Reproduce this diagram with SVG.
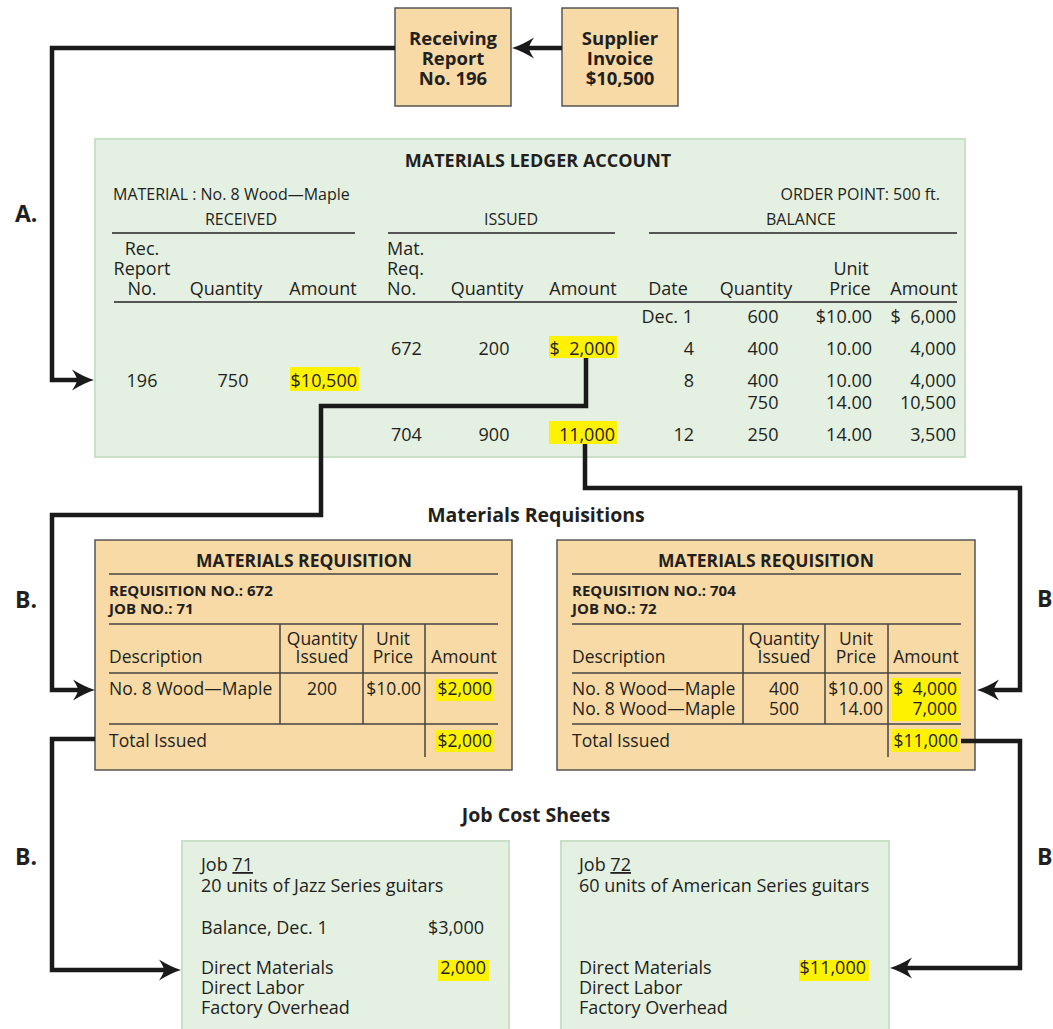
<svg xmlns="http://www.w3.org/2000/svg" width="1053" height="1029" viewBox="0 0 1053 1029">
<style>
text{font-family:"Open Sans","Liberation Sans",sans-serif;fill:#231f20}
.b{font-weight:bold}
.hdr{font-size:18px}
.sm{font-size:16px}
.rq{font-size:17.5px}
.m{text-anchor:middle}
.e{text-anchor:end}
.tan{fill:#f7daa5;stroke:#555;stroke-width:1.5}
.grn{fill:#e3f0e2;stroke:#c8e0c6;stroke-width:2}
.hl{fill:#fff200}
.rule{stroke:#555;stroke-width:2;fill:none}
.rl{stroke:#444;stroke-width:1.5;fill:none}
.conn{fill:none;stroke:#1a1a1a;stroke-width:4.5;stroke-linejoin:miter;marker-end:url(#ah)}
.lbl{font-size:23px;font-weight:bold}
.sec{font-size:19.5px;font-weight:bold;text-anchor:middle}
.top{font-size:18.5px;font-weight:bold;text-anchor:middle}
</style>
<defs>
<marker id="ah" markerUnits="userSpaceOnUse" viewBox="-8 -12 26 24" markerWidth="26" markerHeight="24" refX="0" refY="0" orient="auto" overflow="visible">
<path d="M16,0 Q6,-3 -6,-10.5 Q-1,-3 -1,0 Q-1,3 -6,10.5 Q6,3 16,0 Z" fill="#1a1a1a"/>
</marker>
</defs>
<rect width="1053" height="1029" fill="#ffffff"/>

<g id="receiving-report">
<rect class="tan" x="395" y="8" width="116" height="98"/>
<text class="top" x="453" y="45">Receiving</text>
<text class="top" x="453" y="65">Report</text>
<text class="top" x="453" y="85">No. 196</text>
</g>
<g id="supplier-invoice">
<rect class="tan" x="562" y="8" width="116" height="98"/>
<text class="top" x="620" y="45">Supplier</text>
<text class="top" x="620" y="65">Invoice</text>
<text class="top" x="620" y="85">$10,500</text>
</g>

<g id="materials-ledger">
<rect class="grn" x="95" y="139" width="870" height="318"/>
<text class="b m hdr" x="538" y="167">MATERIALS LEDGER ACCOUNT</text>
<text class="sm" x="113" y="200">MATERIAL : No. 8 Wood—Maple</text>
<text class="sm e" x="940" y="200">ORDER POINT: 500 ft.</text>
<text class="sm m" x="241" y="225">RECEIVED</text>
<text class="sm m" x="511" y="225">ISSUED</text>
<text class="sm m" x="801" y="225">BALANCE</text>
<path class="rule" d="M112,233H355M388,233H615M649,233H957M114,302H957"/>
<g class="hdr">
<text class="m" x="142" y="255">Rec.</text>
<text class="m" x="142" y="275">Report</text>
<text class="m" x="142" y="295">No.</text>
<text class="m" x="226" y="295">Quantity</text>
<text class="m" x="323" y="295">Amount</text>
<text x="387" y="255">Mat.</text>
<text x="387" y="275">Req.</text>
<text x="387" y="295">No.</text>
<text class="m" x="487" y="295">Quantity</text>
<text class="m" x="583" y="295">Amount</text>
<text class="m" x="668" y="295">Date</text>
<text class="m" x="756" y="295">Quantity</text>
<text class="m" x="851" y="275">Unit</text>
<text class="m" x="850" y="295">Price</text>
<text class="m" x="924" y="295">Amount</text>
</g>
<rect class="hl" x="549" y="336" width="68" height="22"/>
<rect class="hl" x="290" y="367" width="69" height="24"/>
<rect class="hl" x="549" y="421" width="68" height="23"/>
<g class="hdr">
<text class="e" x="693" y="323">Dec. 1</text>
<text class="m" x="763" y="323">600</text>
<text class="e" x="872" y="323">$10.00</text>
<text class="e" x="956" y="323" xml:space="preserve">$  6,000</text>
<text x="391" y="355">672</text>
<text class="m" x="494" y="355">200</text>
<text class="e" x="615" y="355" xml:space="preserve">$  2,000</text>
<text class="e" x="694" y="355">4</text>
<text class="m" x="763" y="355">400</text>
<text class="e" x="872" y="355">10.00</text>
<text class="e" x="956" y="355">4,000</text>
<text class="m" x="142" y="387">196</text>
<text class="m" x="233" y="387">750</text>
<text class="e" x="357" y="387">$10,500</text>
<text class="e" x="694" y="387">8</text>
<text class="m" x="763" y="387">400</text>
<text class="e" x="872" y="387">10.00</text>
<text class="e" x="956" y="387">4,000</text>
<text class="m" x="763" y="409">750</text>
<text class="e" x="872" y="409">14.00</text>
<text class="e" x="956" y="409">10,500</text>
<text x="391" y="441">704</text>
<text class="m" x="494" y="441">900</text>
<text class="e" x="615" y="441">11,000</text>
<text class="e" x="694" y="441">12</text>
<text class="m" x="763" y="441">250</text>
<text class="e" x="872" y="441">14.00</text>
<text class="e" x="956" y="441">3,500</text>
</g>
</g>

<text class="sec" x="536" y="522">Materials Requisitions</text>

<g id="requisition-672" transform="translate(95,0)">
<rect class="tan" x="0" y="540" width="417" height="230"/>
<text class="b m" font-size="17.5" x="209" y="567">MATERIALS REQUISITION</text>
<path class="rl" d="M14,574H403M14,624H403M14,673H403M14,724H403M185,624V724M268,624V724M330,624V757"/>
<text class="b" font-size="15" x="14" y="596">REQUISITION NO.: 672</text>
<text class="b" font-size="15" x="14" y="614">JOB NO.: 71</text>
<g class="rq">
<text x="14" y="663">Description</text>
<text class="m" x="227" y="645">Quantity</text>
<text class="m" x="227" y="663">Issued</text>
<text class="m" x="298" y="645">Unit</text>
<text class="m" x="298" y="663">Price</text>
<text class="m" x="369" y="663">Amount</text>
<rect class="hl" x="341" y="679" width="58" height="22"/>
<text x="14" y="695">No. 8 Wood—Maple</text>
<text class="m" x="227" y="695">200</text>
<text class="e" x="326" y="695">$10.00</text>
<text class="e" x="397" y="695">$2,000</text>
<rect class="hl" x="341" y="730" width="58" height="22"/>
<text x="14" y="747">Total Issued</text>
<text class="e" x="397" y="747">$2,000</text>
</g>
</g>

<g id="requisition-704" transform="translate(557,0)">
<rect class="tan" x="0" y="540" width="418" height="230"/>
<text class="b m" font-size="17.5" x="209" y="567">MATERIALS REQUISITION</text>
<path class="rl" d="M15,574H404M15,624H404M15,673H404M15,724H404M186,624V724M268,624V724M331,624V757"/>
<text class="b" font-size="15" x="15" y="596">REQUISITION NO.: 704</text>
<text class="b" font-size="15" x="15" y="614">JOB NO.: 72</text>
<g class="rq">
<text x="15" y="663">Description</text>
<text class="m" x="227" y="645">Quantity</text>
<text class="m" x="227" y="663">Issued</text>
<text class="m" x="299" y="645">Unit</text>
<text class="m" x="299" y="663">Price</text>
<text class="m" x="369" y="663">Amount</text>
<rect class="hl" x="335" y="678" width="67" height="43"/>
<text x="15" y="695">No. 8 Wood—Maple</text>
<text x="15" y="715">No. 8 Wood—Maple</text>
<text class="m" x="227" y="695">400</text>
<text class="m" x="227" y="715">500</text>
<text class="e" x="326" y="695">$10.00</text>
<text class="e" x="326" y="715">14.00</text>
<text class="e" x="400" y="695" xml:space="preserve">$  4,000</text>
<text class="e" x="400" y="715">7,000</text>
<rect class="hl" x="335" y="729" width="68" height="23"/>
<text x="15" y="747">Total Issued</text>
<text class="e" x="401" y="747">$11,000</text>
</g>
</g>

<text class="sec" x="536" y="822">Job Cost Sheets</text>

<g id="job-71">
<rect class="grn" x="182" y="841" width="327" height="200"/>
<g class="hdr">
<text x="201" y="871">Job <tspan text-decoration="underline">71</tspan></text>
<text x="201" y="892">20 units of Jazz Series guitars</text>
<text x="201" y="934">Balance, Dec. 1</text>
<text class="e" x="484" y="934">$3,000</text>
<rect class="hl" x="438" y="960" width="51" height="21"/>
<text x="201" y="974">Direct Materials</text>
<text class="e" x="486" y="974">2,000</text>
<text x="201" y="994">Direct Labor</text>
<text x="201" y="1014">Factory Overhead</text>
</g>
</g>

<g id="job-72">
<rect class="grn" x="561" y="841" width="328" height="200"/>
<g class="hdr">
<text x="579" y="871">Job <tspan text-decoration="underline">72</tspan></text>
<text x="579" y="892">60 units of American Series guitars</text>
<rect class="hl" x="799" y="960" width="70" height="21"/>
<text x="579" y="974">Direct Materials</text>
<text class="e" x="866" y="974">$11,000</text>
<text x="579" y="994">Direct Labor</text>
<text x="579" y="1014">Factory Overhead</text>
</g>
</g>

<g id="connectors">
<path class="conn" d="M562,48H528"/>
<path class="conn" d="M395,48H52V380H78"/>
<path class="conn" d="M586,358V406H321V515H52V690H79"/>
<path class="conn" d="M585,444V488H1020V690H993"/>
<path class="conn" d="M95,739H52V970H165"/>
<path class="conn" d="M961,741H1020V968H906"/>
</g>

<g id="labels">
<text class="lbl" x="15" y="222">A.</text>
<text class="lbl" x="15" y="608">B.</text>
<text class="lbl" x="1037" y="607">B</text>
<text class="lbl" x="15" y="865">B.</text>
<text class="lbl" x="1037" y="865">B</text>
</g>
</svg>
